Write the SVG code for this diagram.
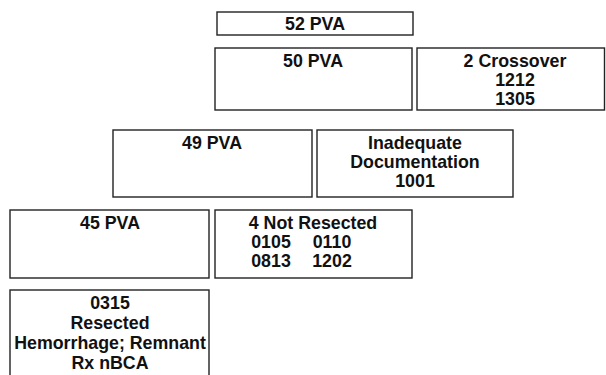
<svg xmlns="http://www.w3.org/2000/svg" width="606" height="375" viewBox="0 0 606 375">
<style>
.box{fill:#fff;stroke:#222;stroke-width:1.4}
.t{font-family:"Liberation Sans",Arial,sans-serif;font-size:17.8px;font-weight:bold;fill:#111;text-anchor:middle}
</style>
<rect width="606" height="375" fill="#fff"/>
<g id="connectors"></g>
<g id="n52"><rect class="box" x="217" y="12" width="196" height="23"/><text class="t" x="315" y="30">52 PVA</text></g>
<g id="n50"><rect class="box" x="215" y="48" width="197" height="62"/><text class="t" x="313" y="66.5">50 PVA</text></g>
<g id="ncross"><rect class="box" x="417" y="48" width="187.5" height="62"/><text class="t" x="515" y="66.5">2 Crossover</text><text class="t" x="515" y="85.5">1212</text><text class="t" x="515" y="104.5">1305</text></g>
<g id="n49"><rect class="box" x="113" y="130" width="199" height="67"/><text class="t" x="212" y="148.5">49 PVA</text></g>
<g id="ninad"><rect class="box" x="317" y="130" width="196" height="67"/><text class="t" x="415" y="148.5">Inadequate</text><text class="t" x="415" y="167.5">Documentation</text><text class="t" x="415" y="186.5">1001</text></g>
<g id="n45"><rect class="box" x="10" y="210" width="199" height="68"/><text class="t" x="110" y="228.5">45 PVA</text></g>
<g id="nnot"><rect class="box" x="215" y="210" width="197" height="68"/><text class="t" x="313" y="228.5">4 Not Resected</text><text class="t" y="247.5"><tspan x="271">0105</tspan><tspan x="332">0110</tspan></text><text class="t" y="266.5"><tspan x="271">0813</tspan><tspan x="332">1202</tspan></text></g>
<g id="n0315"><rect class="box" x="10" y="290" width="199" height="100"/><text class="t" x="110" y="308.5">0315</text><text class="t" x="110" y="328.5">Resected</text><text class="t" x="110" y="348.5">Hemorrhage; Remnant</text><text class="t" x="110" y="368.5">Rx nBCA</text></g>
</svg>
